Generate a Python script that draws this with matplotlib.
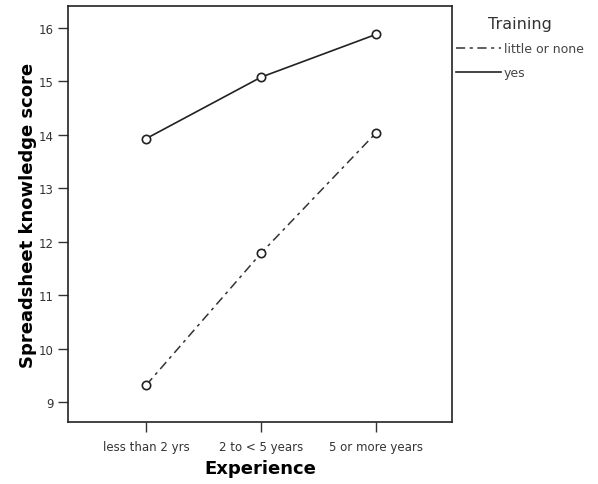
import matplotlib.pyplot as plt

# Datos
experiencia = ["less than 2 yrs", "2 to < 5 years", "5 or more years"]
poco_o_nada = [9.32, 11.79, 14.04]
si = [13.93, 15.08, 15.88]
etiquetas_y = [9, 10, 11, 12, 13, 14, 15, 16]

fig = plt.figure(figsize=(5.98, 4.85), dpi=100)
ax = fig.add_axes([0.1137, 0.1278, 0.6423, 0.8578])

x = list(range(len(experiencia)))
ax.plot(x, poco_o_nada, color="#333333", lw=1.1, dashes=[6, 3, 2, 3],
        marker="o", mfc="white", mec="#222222", ms=6, mew=1.2, label="little or none")
ax.plot(x, si, color="#222222", lw=1.2,
        marker="o", mfc="white", mec="#222222", ms=6, mew=1.2, label="yes")

ax.set_xlim(-0.68, 2.66)
ax.set_ylim(8.63, 16.41)
ax.set_xticks(x)
ax.set_xticklabels(experiencia)
ax.set_yticks(etiquetas_y)
ax.tick_params(labelsize=8.5, colors="#333333", length=7, width=1)
ax.tick_params(axis="x", pad=6)
for s in ax.spines.values():
    s.set_linewidth(1.2)
    s.set_color("#222222")

ax.set_xlabel("Experience", fontsize=13, fontweight="bold", labelpad=4)
ax.set_ylabel("Spreadsheet knowledge score", fontsize=13, fontweight="bold", labelpad=1)

# Leyenda fuera del eje, a la derecha
leg = ax.legend(loc="upper left", bbox_to_anchor=(0.985, 1.0), frameon=False,
                title="Training", fontsize=9, title_fontsize=11.5,
                handlelength=3.6, handletextpad=0.2, borderaxespad=0.5,
                borderpad=0.3, labelspacing=0.9)
for t in leg.get_texts():
    t.set_color("#444444")
leg.get_title().set_color("#333333")
for h in leg.legend_handles:
    h.set_marker("")

fig.savefig("out.png", dpi=100)
